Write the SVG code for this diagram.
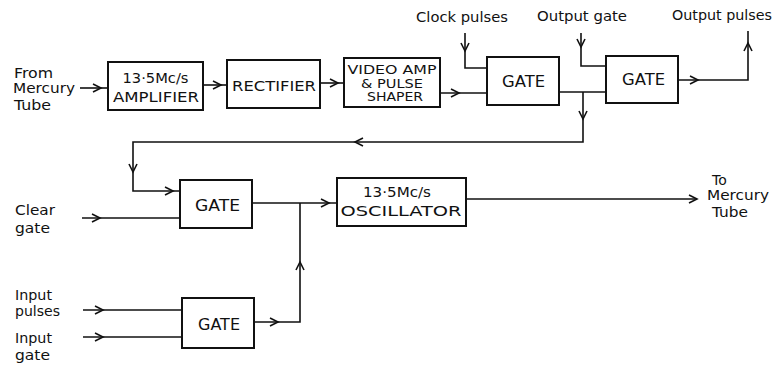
<svg xmlns="http://www.w3.org/2000/svg" width="775" height="367" viewBox="0 0 775 367">
<style>
.box{fill:#fff;stroke:#111;stroke-width:2}
.ln{fill:none;stroke:#111;stroke-width:1.6}
.ch{fill:none;stroke:#111;stroke-width:1.6;stroke-linejoin:miter}
text{font-family:"DejaVu Sans","Liberation Sans",sans-serif;fill:#111}
.lab{font-size:14px}
.bt{font-size:14px;text-anchor:middle}
.gt{font-size:15px;text-anchor:middle}
.va{font-size:12.5px;text-anchor:middle}
</style>
<defs>
<path id="chv" class="ch" d="M-8,-4 L0,0 L-8,4"/>
</defs>
<rect width="775" height="367" fill="#fff"/>
<g id="connectors">
<path class="ln" d="M80,88 H108"/>
<use href="#chv" transform="translate(101,88)"/>
<path class="ln" d="M203,85 H227"/>
<use href="#chv" transform="translate(221,85)"/>
<path class="ln" d="M320,83 H344"/>
<use href="#chv" transform="translate(338,83)"/>
<path class="ln" d="M440,93 H487"/>
<use href="#chv" transform="translate(459,93)"/>
<path class="ln" d="M465,33 V68 H487"/>
<use href="#chv" transform="translate(465,51) rotate(90)"/>
<path class="ln" d="M559,92 H606"/>
<path class="ln" d="M583,92 V142 H133 V191 H180"/>
<use href="#chv" transform="translate(583,119) rotate(90)"/>
<use href="#chv" transform="translate(355,142) rotate(180)"/>
<use href="#chv" transform="translate(133,172) rotate(90)"/>
<use href="#chv" transform="translate(173,191)"/>
<path class="ln" d="M581,33 V66 H606"/>
<use href="#chv" transform="translate(581,47) rotate(90)"/>
<path class="ln" d="M678,80 H748 V31"/>
<use href="#chv" transform="translate(698,80)"/>
<use href="#chv" transform="translate(748,43) rotate(-90)"/>
<path class="ln" d="M82,218 H180"/>
<use href="#chv" transform="translate(100,218)"/>
<path class="ln" d="M252,203 H337"/>
<use href="#chv" transform="translate(329,203)"/>
<path class="ln" d="M466,199 H697"/>
<use href="#chv" transform="translate(697,199)"/>
<path class="ln" d="M83,310 H182"/>
<use href="#chv" transform="translate(103,310)"/>
<path class="ln" d="M83,337 H182"/>
<use href="#chv" transform="translate(103,337)"/>
<path class="ln" d="M254,322 H300 V203"/>
<use href="#chv" transform="translate(278,322)"/>
<use href="#chv" transform="translate(300,262) rotate(-90)"/>
</g>
<g id="amplifier">
<rect class="box" x="108" y="62" width="95" height="48"/>
<text class="bt" x="155.5" y="83" font-size="15" textLength="66" lengthAdjust="spacingAndGlyphs">13·5Mc/s</text>
<text class="bt" x="156" y="102" textLength="86" lengthAdjust="spacingAndGlyphs">AMPLIFIER</text>
</g>
<g id="rectifier">
<rect class="box" x="227" y="60" width="93" height="48"/>
<text class="bt" x="274" y="91" font-size="15" textLength="84" lengthAdjust="spacingAndGlyphs">RECTIFIER</text>
</g>
<g id="videoamp">
<rect class="box" x="344" y="58" width="96" height="49"/>
<text class="va" x="392" y="74" textLength="89" lengthAdjust="spacingAndGlyphs">VIDEO AMP</text>
<text class="va" x="392" y="87.5" textLength="62" lengthAdjust="spacingAndGlyphs">&amp; PULSE</text>
<text class="va" x="395" y="101" textLength="56" lengthAdjust="spacingAndGlyphs">SHAPER</text>
</g>
<g id="gate1">
<rect class="box" x="487" y="57" width="72" height="48"/>
<text class="gt" x="523.5" y="87" textLength="43" lengthAdjust="spacingAndGlyphs">GATE</text>
</g>
<g id="gate2">
<rect class="box" x="606" y="56" width="72" height="47"/>
<text class="gt" x="643.5" y="85" textLength="43" lengthAdjust="spacingAndGlyphs">GATE</text>
</g>
<g id="gate3">
<rect class="box" x="180" y="180" width="72" height="48"/>
<text class="gt" x="217.5" y="211" textLength="45" lengthAdjust="spacingAndGlyphs">GATE</text>
</g>
<g id="oscillator">
<rect class="box" x="337" y="178" width="129" height="48"/>
<text class="bt" x="397" y="197" font-size="15" textLength="68" lengthAdjust="spacingAndGlyphs">13·5Mc/s</text>
<text class="bt" x="401" y="216" textLength="121" lengthAdjust="spacingAndGlyphs">OSCILLATOR</text>
</g>
<g id="gate4">
<rect class="box" x="182" y="298" width="72" height="50"/>
<text class="gt" x="219" y="330" textLength="42" lengthAdjust="spacingAndGlyphs">GATE</text>
</g>
<g id="labels">
<text class="lab" x="14" y="78" textLength="39" lengthAdjust="spacingAndGlyphs">From</text>
<text class="lab" x="13" y="93" textLength="62" lengthAdjust="spacingAndGlyphs">Mercury</text>
<text class="lab" x="14" y="110" textLength="37" lengthAdjust="spacingAndGlyphs">Tube</text>
<text class="lab" x="416" y="22" textLength="92" lengthAdjust="spacingAndGlyphs">Clock pulses</text>
<text class="lab" x="537" y="21" textLength="90" lengthAdjust="spacingAndGlyphs">Output gate</text>
<text class="lab" x="672" y="20" textLength="100" lengthAdjust="spacingAndGlyphs">Output pulses</text>
<text class="lab" x="15" y="215" textLength="40" lengthAdjust="spacingAndGlyphs">Clear</text>
<text class="lab" x="15" y="233" textLength="35" lengthAdjust="spacingAndGlyphs">gate</text>
<text class="lab" x="712" y="185">To</text>
<text class="lab" x="707" y="200" textLength="62" lengthAdjust="spacingAndGlyphs">Mercury</text>
<text class="lab" x="712" y="217" textLength="36" lengthAdjust="spacingAndGlyphs">Tube</text>
<text class="lab" x="15" y="300" textLength="37" lengthAdjust="spacingAndGlyphs">Input</text>
<text class="lab" x="15" y="316" textLength="45" lengthAdjust="spacingAndGlyphs">pulses</text>
<text class="lab" x="15" y="343" textLength="37" lengthAdjust="spacingAndGlyphs">Input</text>
<text class="lab" x="15" y="360" textLength="35" lengthAdjust="spacingAndGlyphs">gate</text>
</g>
</svg>
